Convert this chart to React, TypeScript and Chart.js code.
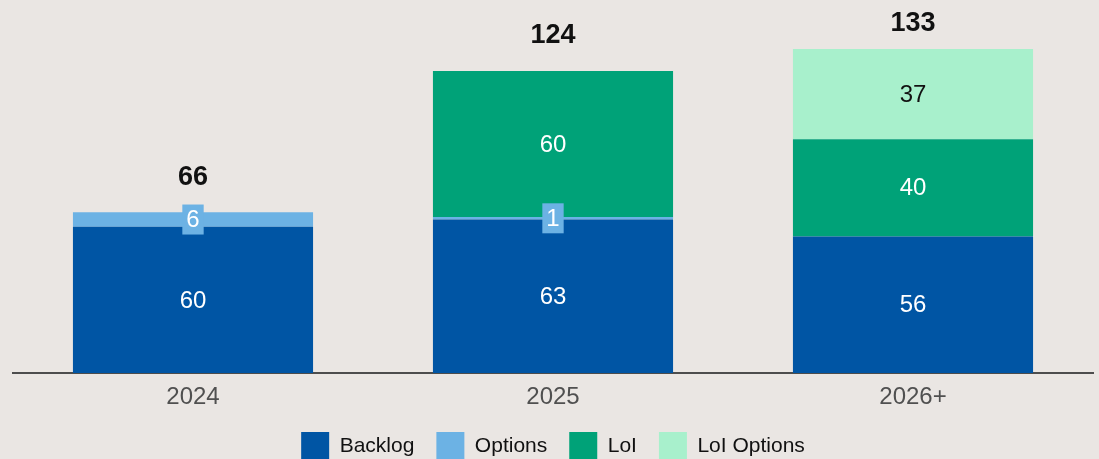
import React, { useEffect, useRef } from "react";
import { Chart, registerables } from "chart.js";

Chart.register(...registerables);

const categories = ["2024", "2025", "2026+"];
const backlog = [60, 63, 56];
const options = [6, 1, 0];
const loi = [0, 60, 40];
const loiOptions = [0, 0, 37];
const totals = [66, 124, 133];

const BG = "#EAE6E3";
const FONT = "'Liberation Sans', Arial, sans-serif";

const labelPlugin = {
  id: "segLabels",
  afterDraw(chart: any) {
    const ctx = chart.ctx;
    ctx.save();
    chart.data.datasets.forEach((ds: any, di: number) => {
      const meta = chart.getDatasetMeta(di);
      meta.data.forEach((el: any, i: number) => {
        const v = ds.data[i];
        if (!v) return;
        const x = el.x;
        const y = (el.y + el.base) / 2;
        ctx.font = `24px ${FONT}`;
        ctx.textAlign = "center";
        ctx.textBaseline = "middle";
        if (ds.label === "Options") {
          const w = ctx.measureText(String(v)).width + 8;
          const h = 30;
          ctx.fillStyle = ds.backgroundColor;
          ctx.fillRect(x - w / 2, y - h / 2, w, h);
        }
        ctx.fillStyle = ds.labelColor || "#ffffff";
        ctx.fillText(String(v), x, y + 1);
      });
    });
    const yScale = chart.scales.y;
    const xScale = chart.scales.x;
    ctx.font = `bold 27px ${FONT}`;
    ctx.fillStyle = "#111111";
    ctx.textAlign = "center";
    ctx.textBaseline = "middle";
    totals.forEach((t, i) => {
      const x = xScale.getPixelForValue(i);
      let y = yScale.getPixelForValue(t) - 35;
      if (y < 24) y = 24;
      ctx.fillText(String(t), x, y);
    });
    ctx.restore();
  },
};

const bgPlugin = {
  id: "bg",
  beforeDraw(chart: any) {
    const ctx = chart.ctx;
    ctx.save();
    ctx.fillStyle = BG;
    ctx.fillRect(0, 0, chart.width, chart.height);
    ctx.restore();
  },
};

export default function App() {
  const ref = useRef<HTMLCanvasElement>(null);
  useEffect(() => {
    document.body.style.margin = "0";
    document.body.style.background = BG;
    const chart = new Chart(ref.current!, {
      type: "bar",
      data: {
        labels: categories,
        datasets: [
          { label: "Backlog", data: backlog, backgroundColor: "#0055A4" },
          { label: "Options", data: options, backgroundColor: "#6CB2E4" },
          { label: "LoI", data: loi, backgroundColor: "#00A278" },
          { label: "LoI Options", data: loiOptions, backgroundColor: "#A8F0CC", labelColor: "#111111" } as any,
        ],
      },
      options: {
        responsive: false,
        animation: false,
        layout: { padding: { top: 49, left: 13, right: 6, bottom: 0 } },
        datasets: { bar: { categoryPercentage: 0.667, barPercentage: 1 } },
        scales: {
          x: {
            stacked: true,
            grid: { display: false },
            border: { display: true, color: "#4d4d4d", width: 2 },
            ticks: { color: "#505050", font: { family: FONT, size: 24 }, padding: 2 },
            afterFit: (s: any) => {
              s.height = 37;
            },
          },
          y: {
            stacked: true,
            display: false,
            min: 0,
            max: 133,
          },
        },
        plugins: {
          legend: {
            position: "bottom",
            labels: {
              boxWidth: 28,
              boxHeight: 28,
              padding: 22,
              color: "#111111",
              font: { family: FONT, size: 21 },
            },
          },
          tooltip: { enabled: false },
        },
      },
      plugins: [bgPlugin, labelPlugin],
    });
    return () => chart.destroy();
  }, []);
  return (
    <div style={{ position: "absolute", left: 0, top: 0, width: 1099, height: 459, overflow: "hidden", background: BG }}>
      <canvas ref={ref} width={1099} height={470} style={{ display: "block" }} />
    </div>
  );
}
